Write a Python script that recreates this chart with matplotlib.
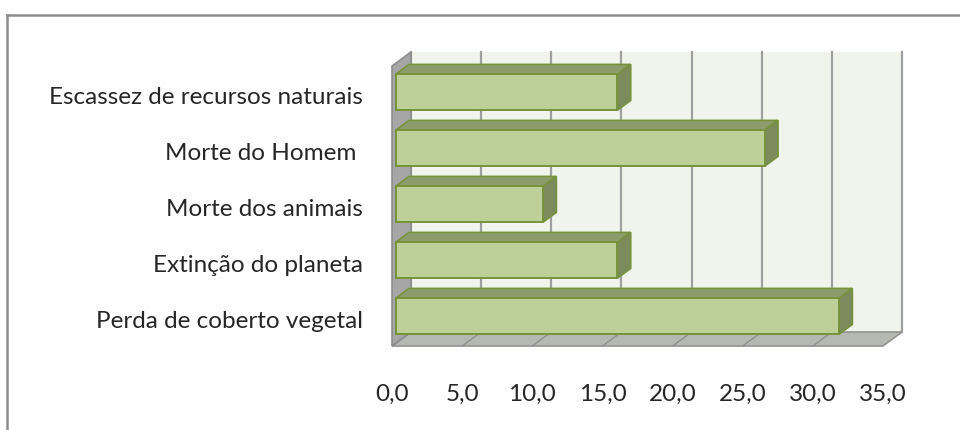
import matplotlib.pyplot as plt
from matplotlib.patches import Polygon, Rectangle
from matplotlib.lines import Line2D

# dados (%)
categorias = ['Perda de coberto vegetal', 'Extinção do planeta', 'Morte dos animais',
              'Morte do Homem ', 'Escassez de recursos naturais']
valores = [31.6, 15.8, 10.5, 26.3, 15.8]
ticks_x = [0, 5, 10, 15, 20, 25, 30, 35]
rotulos_x = ['0,0', '5,0', '10,0', '15,0', '20,0', '25,0', '30,0', '35,0']

# profundidade do efeito 3D (unidades de dados)
DX = 1.354
DY = 0.25
Y0, Y1 = -0.482, 4.518
XMAX = 35
D_FRENTE, D_TRAS = 0.2, 0.9
ALTURA = 0.643

plt.rcParams['font.family'] = ['Lato', 'DejaVu Sans']

fig = plt.figure(figsize=(9.6, 4.3), dpi=100)
ax = fig.add_axes([392 / 960, 84 / 430, 491 / 960, 280 / 430])
ax.set_xlim(0, XMAX)
ax.set_ylim(Y0, Y1)
for s in ax.spines.values():
    s.set_visible(False)


def poly(pts, fc, ec, lw=1.0, z=1):
    p = Polygon(pts, closed=True, facecolor=fc, edgecolor=ec, linewidth=lw,
                zorder=z, clip_on=False)
    ax.add_patch(p)


# parede do fundo
ax.add_patch(Rectangle((DX, Y0 + DY), XMAX, Y1 - Y0, facecolor='#f1f4ec',
                       edgecolor='none', zorder=0, clip_on=False))
for v in ticks_x:
    ax.plot([v + DX, v + DX], [Y0 + DY, Y1 + DY], color='#a0a0a0', lw=1.6,
            zorder=0.5, clip_on=False)

# chão
poly([(0, Y0), (XMAX, Y0), (XMAX + DX, Y0 + DY), (DX, Y0 + DY)],
     '#b6b8b2', '#929292', 1.2, 1)
for v in ticks_x[1:-1]:
    ax.plot([v, v + DX], [Y0, Y0 + DY], color='#909090', lw=1.0,
            zorder=1.1, clip_on=False)

# parede lateral
poly([(0, Y0), (0, Y1), (DX, Y1 + DY), (DX, Y0 + DY)],
     '#a6a6a6', '#8c8c8c', 1.2, 1.2)

# barras
verde_borda = '#76933c'
ys = list(range(len(categorias)))
for y, v in zip(ys, valores):
    base = y + D_FRENTE * DY - ALTURA / 2
    topo = base + ALTURA
    fx, bx = D_FRENTE * DX, D_TRAS * DX
    by = (D_TRAS - D_FRENTE) * DY
    # face de cima
    poly([(fx, topo), (v + fx, topo), (v + bx, topo + by), (bx, topo + by)],
         '#8d9c6c', verde_borda, 1.2, 3)
    # face lateral
    poly([(v + fx, base), (v + fx, topo), (v + bx, topo + by), (v + bx, base + by)],
         '#7c8b5b', verde_borda, 1.2, 3)
ax.barh([y + D_FRENTE * DY for y in ys], valores, left=D_FRENTE * DX,
        height=ALTURA, color='#bcd098', edgecolor=verde_borda, linewidth=1.4,
        zorder=4)

ax.set_yticks(ys)
ax.set_yticklabels(categorias, fontsize=17.5, color='#262626')
ax.set_xticks(ticks_x)
ax.set_xticklabels(rotulos_x, fontsize=17.5, color='#262626')
ax.tick_params(axis='y', length=0, pad=21)
ax.tick_params(axis='x', length=0, pad=27.5)

# moldura da área do gráfico
fig.add_artist(Line2D([7 / 960, 1], [1 - 15 / 430, 1 - 15 / 430], color='#8c8c8c', lw=1.8))
fig.add_artist(Line2D([7 / 960, 7 / 960], [0, 1 - 15 / 430], color='#8c8c8c', lw=1.8))

fig.savefig('out.png', dpi=100)
